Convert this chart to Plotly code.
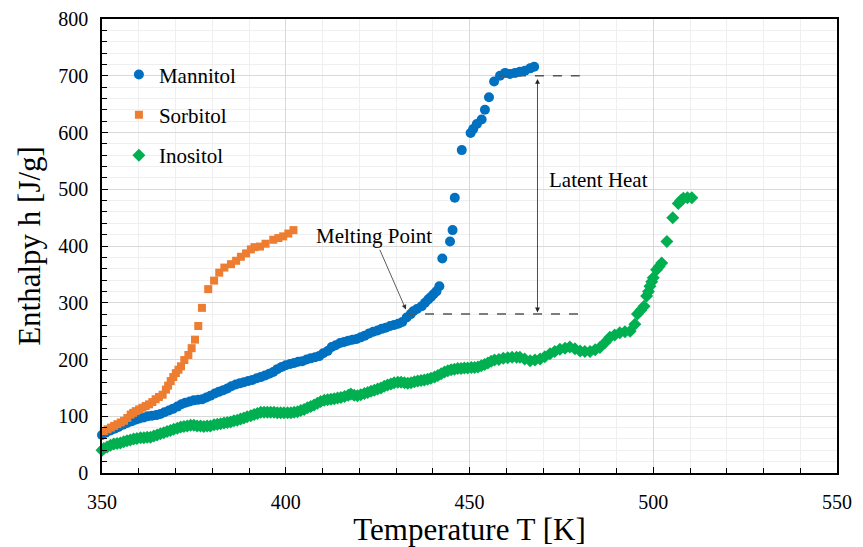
import plotly.graph_objects as go

# ---------------- data ----------------
mannitol_T = [350, 351, 352.3, 353.4, 354.5, 355.7, 356.8, 358, 359.1, 360.2, 361.4, 362.5, 363.6, 364.8,
              365.9, 367, 368.2, 369.3, 370.5, 371.6, 372.7, 373.9, 375, 376.2, 377.3, 378.4, 379.5, 380.7,
              381.8, 383, 384.1, 385.2, 386.4, 387.5, 388.6, 389.8, 390.9, 392.1, 393.2, 394.4, 395.5, 396.6,
              397.7, 398.9, 400, 401.2, 402.3, 403.4, 404.5, 405.7, 406.8, 408, 409.1, 410.2, 411.4, 412.5,
              413.6, 414.8, 415.9, 417, 418.2, 419.3, 420.4, 421.5, 422.7, 423.8, 425, 426.1, 427.2, 428.4,
              429.5, 430.6, 431.7, 432.9, 434, 434.7, 435.7, 437, 437.9, 438.8, 439.5, 440.2, 441, 441.8,
              442.6, 444.7, 445.4, 446, 447.9, 450.3, 451, 452, 453.3, 454.2, 455.3, 456.7, 458.3, 459.7,
              461, 462.4, 463.7, 465.1, 466.5, 467.6]
mannitol_h = [67, 71, 75, 78, 81, 85, 88, 91, 94, 96, 98, 100, 101, 102,
              104, 107, 110, 113, 117, 121, 124, 126, 128, 129, 130, 133, 136, 140,
              143, 146, 149, 153, 156, 158, 160, 162, 164, 167, 169, 172, 175, 178,
              183, 187, 190, 192, 194, 196, 197, 200, 202, 204, 206, 211, 215, 222,
              225, 229, 231, 233, 235, 236, 239, 242, 246, 249, 251, 254, 256, 259,
              261, 263, 266, 274, 280, 285, 289, 294, 300, 306, 310, 315, 320, 329,
              378, 408, 428, 485, 569, 599, 606, 615, 623, 640, 662, 690, 700, 705,
              703, 705, 707, 709, 713, 716]

sorbitol_T = [350.5, 351.5, 352.4, 353.3, 354.2, 355.1, 356, 356.9, 357.8, 358.5, 359.2, 360.1, 361, 361.9,
              362.8, 363.7, 364.6, 365.5, 366.5, 367.4, 368, 368.7, 369.4, 370.1, 370.8, 371.5, 372.4, 373.5,
              374.4, 375.3, 376.2, 377.2, 378.9, 380.5, 381.9, 383.3, 385.1, 386.5, 387.8, 389.2, 390.5, 391.5,
              393, 394.5, 396.6, 398, 399.3, 400.7, 402.1]
sorbitol_h = [74, 77, 80, 83, 86, 89, 92, 97, 103, 106, 109, 112, 115, 118,
              121, 125, 130, 134, 138, 147, 154, 162, 169, 176, 182, 188, 199, 208,
              220, 235, 259, 291, 324, 339, 353, 362, 368, 374, 381, 387, 394, 398,
              399, 404, 411, 414, 417, 422, 428]

inositol_T = [350, 350.5, 351.4, 352.3, 353.2, 354.1, 355, 355.9, 356.8, 357.7, 358.6, 359.5, 360.5, 361.4,
              362.3, 363.2, 364.1, 365, 365.9, 366.8, 367.7, 368.6, 369.5, 370.5, 371.4, 372.3, 373.2, 374.1,
              375, 375.9, 376.8, 377.7, 378.6, 379.5, 380.5, 381.4, 382.3, 383.2, 384.1, 385, 385.9, 386.8,
              387.7, 388.6, 389.5, 390.5, 391.4, 392.3, 393.2, 394.1, 395, 395.9, 396.8, 397.7, 398.6, 399.5,
              400.5, 401.4, 402.3, 403.2, 404.1, 405, 405.9, 406.8, 407.7, 408.6, 409.5, 410.5, 411.4, 412.3,
              413.2, 414.1, 415, 416, 417, 417.7, 418.6, 419.5, 420.4, 421.4, 422.3, 423.2, 424.1, 425,
              425.9, 426.8, 427.7, 428.6, 429.5, 430.5, 431.4, 432.3, 433.2, 434.1, 435, 435.9, 436.8, 437.7,
              438.6, 439.5, 440.5, 441.4, 442.3, 443.2, 444.1, 445, 445.9, 446.8, 447.7, 448.6, 449.5, 450.5,
              451.4, 452.3, 453.2, 454.1, 455, 455.9, 456.8, 458, 459.2, 460.4, 461.6, 462.8, 463.7, 465,
              466.5, 467.8, 469.2, 470.5, 471.9, 473.2, 474.6, 476, 477.3, 478.7, 480.1, 481.4, 482.8, 484.2,
              485.5, 486.9, 488.2, 489.5, 490.9, 492.3, 493.7, 495, 495.7, 496.6, 497.5, 498.2, 498.7, 499.1,
              499.6, 500, 500.9, 501.6, 502.3, 503.7, 505.3, 506.8, 507.5, 508.2, 509.3, 510.5]
inositol_h = [40, 43, 46, 49, 51, 52, 53, 55, 57, 58, 60, 61, 62, 62,
              63, 63, 65, 67, 69, 71, 73, 75, 77, 79, 81, 82, 83, 84,
              84, 83, 83, 82, 83, 83, 85, 86, 87, 88, 89, 90, 92, 93,
              95, 97, 99, 101, 103, 105, 107, 107, 107, 107, 107, 106, 106, 106,
              106, 106, 107, 108, 110, 112, 115, 117, 120, 123, 126, 128, 129, 130,
              131, 132, 133, 135, 137, 139, 137, 136, 138, 140, 142, 144, 146, 148,
              150, 153, 155, 157, 159, 160, 160, 159, 158, 159, 161, 162, 163, 164,
              165, 167, 169, 172, 175, 178, 180, 182, 183, 184, 184, 185, 185, 186,
              186, 187, 189, 191, 194, 197, 199, 200, 202, 203, 204, 204, 204, 201,
              198, 199, 201, 205, 210, 214, 218, 220, 222, 219, 215, 214, 214, 217,
              221, 230, 239, 243, 247, 249, 250, 262, 280, 287, 294, 312, 320, 329,
              337, 344, 358, 364, 370, 408, 450, 475, 480, 484, 485, 485]

# annotation values
melt_T, melt_h = 433, 280
peak_T, peak_h = 458, 700
line_end_T = 480
latent_T = 468.5

FONT = "Liberation Serif, Times New Roman, serif"

fig = go.Figure()
series = [
    ("Mannitol", mannitol_T, mannitol_h, "circle", "#0070C0", 10),
    ("Sorbitol", sorbitol_T, sorbitol_h, "square", "#ED7D31", 8),
    ("Inositol", inositol_T, inositol_h, "diamond", "#00B050", 10),
]
for name, T, h, sym, col, sz in series:
    fig.add_trace(go.Scatter(
        x=T, y=h, mode="markers", name=name, legendgroup=name,
        marker=dict(symbol=sym, color=col, size=sz, line=dict(width=0)),
        cliponaxis=False,
    ))

# dashed reference lines
fig.add_shape(type="line", x0=melt_T, x1=line_end_T, y0=melt_h, y1=melt_h,
              line=dict(color="#555555", width=1.5, dash="dash"))
fig.add_shape(type="line", x0=peak_T, x1=line_end_T, y0=peak_h, y1=peak_h,
              line=dict(color="#555555", width=1.5, dash="dash"))

# latent heat double arrow
fig.add_annotation(x=latent_T, y=melt_h + 3, ax=latent_T, ay=peak_h - 3,
                   xref="x", yref="y", axref="x", ayref="y", text="",
                   showarrow=True, arrowhead=2, arrowside="end+start",
                   arrowsize=1.2, arrowwidth=0.8, arrowcolor="#222222")
fig.add_annotation(x=471, y=516, xref="x", yref="y", text="Latent Heat",
                   showarrow=False, xanchor="left",
                   font=dict(family=FONT, size=21, color="black"))
# melting point arrow
fig.add_annotation(x=melt_T - 0.3, y=melt_h + 8, ax=424, ay=417,
                   xref="x", yref="y", axref="x", ayref="y", text="Melting Point",
                   showarrow=True, arrowhead=2, arrowsize=1.2, arrowwidth=0.8,
                   arrowcolor="#333333",
                   font=dict(family=FONT, size=21, color="black"))

axis_common = dict(
    showline=True, linecolor="black", linewidth=1.5, mirror=True,
    ticks="inside", ticklen=6, tickcolor="black", tickwidth=1,
    showgrid=True, gridcolor="#d9d9d9", gridwidth=1, zeroline=False,
    tickfont=dict(family=FONT, size=20, color="black"),
    ticklabeloverflow="allow",
)
fig.update_xaxes(
    range=[350, 550], tick0=350, dtick=50,
    minor=dict(dtick=10, ticks="inside", ticklen=5, tickcolor="black",
               showgrid=True, gridcolor="#efefef"),
    title=dict(text="Temperature T [K]", font=dict(family=FONT, size=31, color="black"), standoff=8),
    ticklabelstandoff=10,
    **axis_common,
)
fig.update_yaxes(
    range=[0, 800], tick0=0, dtick=100,
    minor=dict(dtick=20, ticks="inside", ticklen=5, tickcolor="black",
               showgrid=True, gridcolor="#efefef"),
    title=dict(text="Enthalpy h [J/g]", font=dict(family=FONT, size=31, color="black"), standoff=8),
    ticklabelstandoff=8,
    **axis_common,
)

# page body has an 8px margin: size/margins compensate so the plot area lands where the reference has it
fig.update_layout(
    width=855, height=539,
    margin=dict(l=94, r=26, t=11, b=74, autoexpand=False),
    paper_bgcolor="white", plot_bgcolor="white",
    font=dict(family=FONT, color="black"),
    showlegend=True,
    legend=dict(x=0.023, y=0.922, xanchor="left", yanchor="top",
                bgcolor="rgba(0,0,0,0)", traceorder="grouped", tracegroupgap=10,
                font=dict(family=FONT, size=21, color="black"), itemwidth=30),
)

fig.write_html("out.html")
